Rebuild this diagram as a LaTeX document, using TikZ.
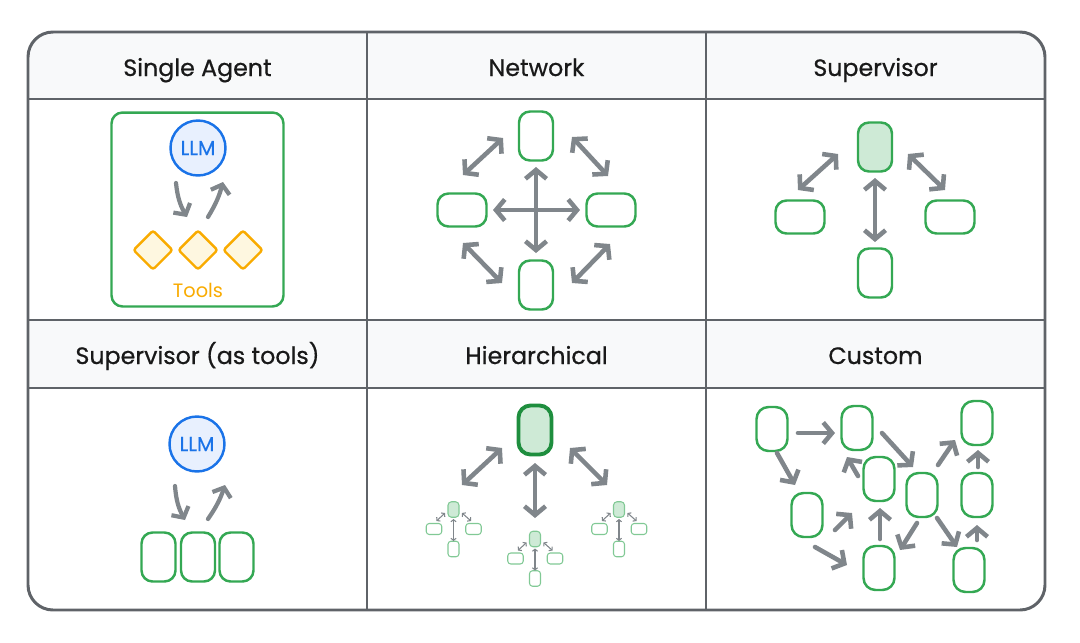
\documentclass[tikz,border=0pt]{standalone}
\usepackage{fontspec}
\setmainfont{Poppins}
\newfontfamily\hdrfont{Poppins}[FakeBold=0.6]
\usetikzlibrary{arrows.meta,calc,shapes.geometric}
\definecolor{gArrow}{HTML}{80868B}
\definecolor{gBorder}{HTML}{5F6368}
\definecolor{gGreen}{HTML}{34A853}
\definecolor{gGreenDark}{HTML}{1E8E3E}
\definecolor{gGreenFill}{HTML}{CEEAD6}
\definecolor{gGreenLight}{HTML}{81C995}
\definecolor{gBlue}{HTML}{1A73E8}
\definecolor{gBlueFill}{HTML}{E8F0FE}
\definecolor{gYellow}{HTML}{F9AB00}
\definecolor{gYellowFill}{HTML}{FEF7E0}
\definecolor{gHeader}{HTML}{F8F9FA}
\newcommand{\minisup}[3]{%
  \node[mtop] (#1t) at (#2,#3) {};
  \node[mwide] (#1l) at ($(#1t)+(-19.5,19.5)$) {};
  \node[mwide] (#1r) at ($(#1t)+(20,19.5)$) {};
  \node[mtall] (#1b) at ($(#1t)+(0,39.5)$) {};
  \draw[marr] ($(#1l)+(2.5,-8)$) -- ($(#1t)+(-8.5,3.5)$);
  \draw[marr] ($(#1t)+(8.5,3.5)$) -- ($(#1r)+(-2.5,-8)$);
  \draw[marr] ($(#1t)+(0,9.5)$) -- ($(#1b)+(0,-8)$);
}
\begin{document}
\begin{tikzpicture}[x=0.02cm,y=-0.02cm,
  hdr/.style={font=\hdrfont\fontsize{13.5}{16}\selectfont, text=black!90, inner sep=0pt, anchor=base},
  tallbox/.style={draw=gGreen, line width=1.4pt, rounded corners=0.22cm, minimum width=0.68cm, minimum height=0.98cm, fill=white, inner sep=0pt},
  widebox/.style={draw=gGreen, line width=1.4pt, rounded corners=0.22cm, minimum width=0.98cm, minimum height=0.66cm, fill=white, inner sep=0pt},
  custbox/.style={draw=gGreen, line width=1.4pt, rounded corners=0.24cm, minimum width=0.62cm, minimum height=0.88cm, fill=white, inner sep=0pt},
  llm/.style={circle, draw=gBlue, fill=gBlueFill, line width=1.4pt, minimum size=1.1cm, text=gBlue, font=\hdrfont\fontsize{11.5}{13}\selectfont, inner sep=0pt},
  tool/.style={diamond, draw=gYellow, fill=gYellowFill, line width=1.4pt, minimum width=0.8cm, minimum height=0.8cm, inner sep=0pt, rounded corners=1.5pt},
  mtop/.style={draw=gGreenLight, fill=gGreenFill, line width=0.6pt, rounded corners=0.07cm, minimum width=0.22cm, minimum height=0.31cm, inner sep=0pt},
  mwide/.style={draw=gGreenLight, fill=white, line width=0.6pt, rounded corners=0.06cm, minimum width=0.31cm, minimum height=0.22cm, inner sep=0pt},
  mtall/.style={draw=gGreenLight, fill=white, line width=0.6pt, rounded corners=0.06cm, minimum width=0.22cm, minimum height=0.31cm, inner sep=0pt},
  marr/.style={draw=gArrow, line width=0.6pt, line cap=round, {Straight Barb[length=1.2pt,width=3pt]}-{Straight Barb[length=1.2pt,width=3pt]}},
  arr/.style={draw=gArrow, line width=2.6pt, line cap=round, -{Straight Barb[length=5pt,width=12pt]}},
  darr/.style={draw=gArrow, line width=2.6pt, line cap=round, {Straight Barb[length=5pt,width=12pt]}-{Straight Barb[length=5pt,width=12pt]}},
  larr/.style={draw=gArrow, line width=2.4pt, line cap=round, -{Straight Barb[length=4.5pt,width=11pt]}}
]
\useasboundingbox (0,0) rectangle (1080,643);

% ---------- table frame ----------
\begin{scope}
  \clip[rounded corners=0.5cm] (28,32) rectangle (1045,610);
  \fill[gHeader] (28,32) rectangle (1045,99);
  \fill[gHeader] (28,320) rectangle (1045,388);
\end{scope}
\draw[gBorder, line width=1.3pt] (28,99) -- (1045,99);
\draw[gBorder, line width=1.3pt] (28,320) -- (1045,320);
\draw[gBorder, line width=1.3pt] (28,388) -- (1045,388);
\draw[gBorder, line width=1.3pt] (367,32) -- (367,610);
\draw[gBorder, line width=1.3pt] (706,32) -- (706,610);
\draw[gBorder, line width=1.7pt, rounded corners=0.5cm] (28,32) rectangle (1045,610);

% ---------- headers ----------
\node[hdr] (h1) at (197.5,76) {Single Agent};
\node[hdr] (h2) at (536.5,76) {Network};
\node[hdr] (h3) at (875.5,76) {Supervisor};
\node[hdr] (h4) at (197.5,364) {Supervisor (as tools)};
\node[hdr] (h5) at (536.5,364) {Hierarchical};
\node[hdr] (h6) at (875.5,364) {Custom};

% ---------- Single Agent ----------
\node[draw=gGreen, line width=1.4pt, rounded corners=0.22cm, minimum width=3.44cm, minimum height=3.88cm, fill=white] (sabox) at (197.5,209.5) {};
\node[llm] (saL) at (198,148) {LLM};
\node[tool] (sd1) at (153,250) {};
\node[tool] (sd2) at (198,250) {};
\node[tool] (sd3) at (243,250) {};
\node[text=gYellow, font=\fontsize{11}{13}\selectfont, inner sep=0pt] (satools) at (198,290) {Tools};
\draw[larr] ($(saL)+(-22,35)$) to[bend right=12] ($(sd2)+(-11,-33)$);
\draw[larr] ($(sd2)+(10,-33)$) to[bend right=8] ($(saL)+(25,34)$);

% ---------- Network ----------
\node[tallbox] (nT) at (536,136) {};
\node[widebox] (nL) at (462,210) {};
\node[widebox] (nR) at (611,210) {};
\node[tallbox] (nB) at (536,285) {};
\draw[darr] ($(nL)+(1,-35)$) -- ($(nT)+(-33,2)$);
\draw[darr] ($(nT)+(36,1)$) -- ($(nR)+(-3,-34)$);
\draw[darr] ($(nL)+(1,33)$) -- ($(nB)+(-34,-2)$);
\draw[darr] ($(nB)+(36,-2)$) -- ($(nR)+(-1,34)$);
\draw[darr] ($(nL)+(31,0)$) -- ($(nR)+(-31,0)$);
\draw[darr] ($(nT)+(0,31)$) -- ($(nB)+(0,-32)$);

% ---------- Supervisor ----------
\node[tallbox, fill=gGreenFill] (s0) at (875,147) {};
\node[widebox] (s1) at (800,217) {};
\node[widebox] (s2) at (950,217) {};
\node[tallbox] (s3) at (875,273) {};
\draw[darr] ($(s1)+(-2,-27)$) -- ($(s0)+(-37,7)$);
\draw[darr] ($(s0)+(33,7)$) -- ($(s2)+(-5,-27)$);
\draw[darr] ($(s0)+(0,31)$) -- ($(s3)+(0,-31)$);

% ---------- Supervisor (as tools) ----------
\node[llm] (stL) at (197,444) {LLM};
\node[tallbox] (stp1) at (158.5,557) {};
\node[tallbox] (stp2) at (198,557) {};
\node[tallbox] (stp3) at (236.5,557) {};
\draw[larr] ($(stL)+(-22,42)$) to[bend right=12] ($(stp2)+(-13,-37)$);
\draw[larr] ($(stp2)+(10,-38)$) to[bend right=8] ($(stL)+(28,41)$);

% ---------- Hierarchical ----------
\node[draw=gGreenDark, fill=gGreenFill, line width=2.2pt, rounded corners=0.24cm, minimum width=0.66cm, minimum height=0.98cm, inner sep=0pt] (h0) at (535,430) {};
\minisup{ma}{453.5}{509.5}
\minisup{mb}{535}{539}
\minisup{mc}{619}{509.5}
\draw[darr] ($(mat)+(8.5,-24.5)$) -- ($(h0)+(-33,18)$);
\draw[darr] ($(h0)+(35,18)$) -- ($(mct)+(-12,-24.5)$);
\draw[darr] ($(h0)+(0,33)$) -- ($(mbt)+(0,-21)$);

% ---------- Custom ----------
\node[custbox] (cA) at (772,429) {};
\node[custbox] (cB) at (857,428) {};
\node[custbox] (cC) at (977,423) {};
\node[custbox] (cD) at (879,479) {};
\node[custbox] (cE) at (922,495) {};
\node[custbox] (cF) at (977,495) {};
\node[custbox] (cG) at (807,515) {};
\node[custbox] (cH) at (879,568) {};
\node[custbox] (cI) at (969,570) {};
\draw[arr] ($(cA)+(26,4)$) -- ($(cB)+(-22,5)$);
\draw[arr] ($(cA)+(5,24)$) -- ($(cG)+(-12,-30)$);
\draw[arr] ($(cB)+(25,5)$) -- ($(cE)+(-9,-28)$);
\draw[arr] ($(cD)+(-21,-3)$) -- ($(cB)+(-10,29)$);
\draw[arr] ($(cE)+(16,-30)$) -- ($(cC)+(-22,17)$);
\draw[arr] ($(cF)+(1,-28)$) -- ($(cC)+(1,27)$);
\draw[arr] ($(cG)+(28,15)$) -- ($(cD)+(-27,34)$);
\draw[arr] ($(cG)+(8,32)$) -- ($(cH)+(-32,-3)$);
\draw[arr] ($(cH)+(1,-29)$) -- ($(cD)+(1,29)$);
\draw[arr] ($(cE)+(-5,28)$) -- ($(cH)+(21,-18)$);
\draw[arr] ($(cE)+(15,23)$) -- ($(cI)+(-12,-23)$);
\draw[arr] ($(cI)+(8,-30)$) -- ($(cF)+(0,30)$);
\end{tikzpicture}
\end{document}
